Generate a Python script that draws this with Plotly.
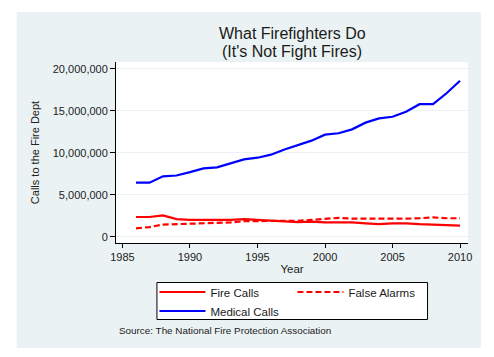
import plotly.graph_objects as go

years = list(range(1986, 2011))
fire_calls = [2.35, 2.35, 2.55, 2.10, 2.00, 2.00, 2.00, 2.00, 2.10, 2.00,
              1.95, 1.80, 1.75, 1.80, 1.70, 1.70, 1.70, 1.60, 1.50, 1.60,
              1.60, 1.50, 1.45, 1.33, 1.33]
false_alarms = [1.00, 1.15, 1.45, 1.50, 1.55, 1.65, 1.65, 1.70, 1.85, 1.85,
                1.90, 1.85, 1.90, 2.00, 2.10, 2.25, 2.15, 2.15, 2.10, 2.10,
                2.15, 2.20, 2.30, 2.20, 2.20]
medical_calls = [6.44, 6.44, 7.20, 7.30, 7.70, 8.15, 8.27, 8.75, 9.22, 9.42,
                 9.78, 10.40, 10.90, 11.45, 12.17, 12.33, 12.80, 13.60, 14.10, 14.30,
                 14.90, 15.80, 15.80, 17.10, 18.60]
fire_calls = [v * 1e6 for v in fire_calls]
false_alarms = [v * 1e6 for v in false_alarms]
medical_calls = [v * 1e6 for v in medical_calls]

x_ticks = [1985, 1990, 1995, 2000, 2005, 2010]
y_ticks = [0, 5e6, 10e6, 15e6, 20e6]

FONT = "Arial, Liberation Sans, sans-serif"
BG = "#EAF2F3"

fig = go.Figure()
fig.add_trace(go.Scatter(x=years, y=fire_calls, mode="lines", name="Fire Calls",
                         line=dict(color="#FF0000", width=2.2)))
fig.add_trace(go.Scatter(x=years, y=false_alarms, mode="lines", name="False Alarms",
                         line=dict(color="#FF0000", width=2.2, dash="6px,3px")))
fig.add_trace(go.Scatter(x=years, y=medical_calls, mode="lines", name="Medical Calls",
                         line=dict(color="#0000FF", width=2.2)))

# figure coords: plot area x 107.5..460, y 54..235 (figure 486x349)
def px(fx):
    return (fx - 107.5) / 352.5

def py(fy):
    return (235 - fy) / 181.0

white_borders = [
    (-1.0, px(8), -2.0, 3.0),
    (px(473), 1.5, -2.0, 3.0),
    (-1.0, 1.5, py(4), 3.0),
    (-1.0, 1.5, -2.0, py(340)),
]
shapes = [dict(type="rect", xref="paper", yref="paper", x0=a, x1=b, y0=c, y1=d,
               fillcolor="white", line=dict(width=0), layer="above")
          for a, b, c, d in white_borders]
# legend frame
shapes.append(dict(type="rect", xref="paper", yref="paper",
                   x0=px(148.5), x1=px(419.5), y0=py(311.5), y1=py(274.5),
                   fillcolor="white", line=dict(width=1, color="#000000"),
                   layer="above"))

fig.update_layout(
    width=486, height=349,
    margin=dict(l=107.5, r=26, t=54, b=114),
    paper_bgcolor=BG,
    plot_bgcolor="white",
    font=dict(family=FONT, size=11, color="#222222"),
    xaxis=dict(range=[1984.52, 2010.59], tickvals=x_ticks, showgrid=False,
               showline=True, linecolor="#000000", linewidth=1,
               ticks="outside", ticklen=4, tickcolor="#000000",
               zeroline=False, title=dict(text="Year", standoff=2, font=dict(size=11.5))),
    yaxis=dict(range=[-0.75e6, 20.83e6], tickvals=y_ticks, tickformat=",d",
               showgrid=True, gridcolor=BG, gridwidth=1,
               showline=True, linecolor="#000000", linewidth=1,
               ticks="outside", ticklen=5, tickcolor="#000000",
               zeroline=False,
               title=dict(text="Calls to the Fire Dept", standoff=10, font=dict(size=11))),
    showlegend=True,
    legend=dict(orientation="h", x=px(146), y=py(269.5), xanchor="left", yanchor="top",
                bgcolor="rgba(0,0,0,0)", borderwidth=0,
                entrywidth=77, itemwidth=46, tracegroupgap=0,
                font=dict(size=11.5, color="#1a1a1a")),
    shapes=shapes,
    annotations=[
        dict(text="What Firefighters Do", xref="paper", yref="paper",
             x=0.5, y=py(26), xanchor="center", yanchor="middle", showarrow=False,
             font=dict(size=16, color="#1a1a1a")),
        dict(text="(It's Not Fight Fires)", xref="paper", yref="paper",
             x=0.5, y=py(43.5), xanchor="center", yanchor="middle", showarrow=False,
             font=dict(size=16, color="#1a1a1a")),
        dict(text="Source: The National Fire Protection Association",
             xref="paper", yref="paper", x=px(108.5), y=py(322),
             xanchor="left", yanchor="middle", showarrow=False,
             font=dict(size=9.9, color="#1a1a1a")),
    ],
)

fig.write_html("out.html")
